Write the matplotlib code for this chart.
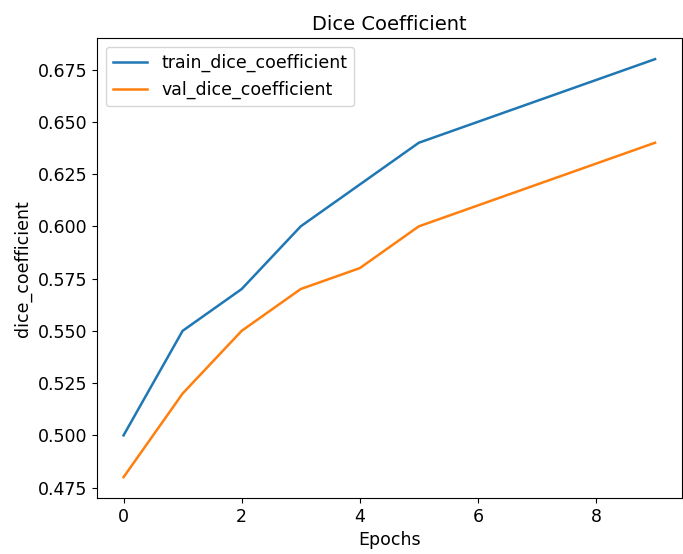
import numpy as np
import matplotlib
matplotlib.use("Agg")
import matplotlib.pyplot as plt

# Werte
epochs = np.arange(10)
train_dice = [0.50, 0.55, 0.57, 0.60, 0.62, 0.64, 0.65, 0.66, 0.67, 0.68]
val_dice = [0.48, 0.52, 0.55, 0.57, 0.58, 0.60, 0.61, 0.62, 0.63, 0.64]

fig = plt.figure(figsize=(6.83, 5.54), dpi=100)
ax = fig.add_axes([0.142, 0.101, 0.856, 0.830])

ax.plot(epochs, train_dice, label="train_dice_coefficient", linewidth=1.8)
ax.plot(epochs, val_dice, label="val_dice_coefficient", linewidth=1.8)
ax.set_title("Dice Coefficient", fontsize=14)
ax.set_xlabel("Epochs", fontsize=12.5)
ax.set_ylabel("dice_coefficient", fontsize=12.5)
ax.tick_params(labelsize=12.5)
ax.legend(loc="upper left", fontsize=12.5)

fig.savefig("out.png", dpi=100)
